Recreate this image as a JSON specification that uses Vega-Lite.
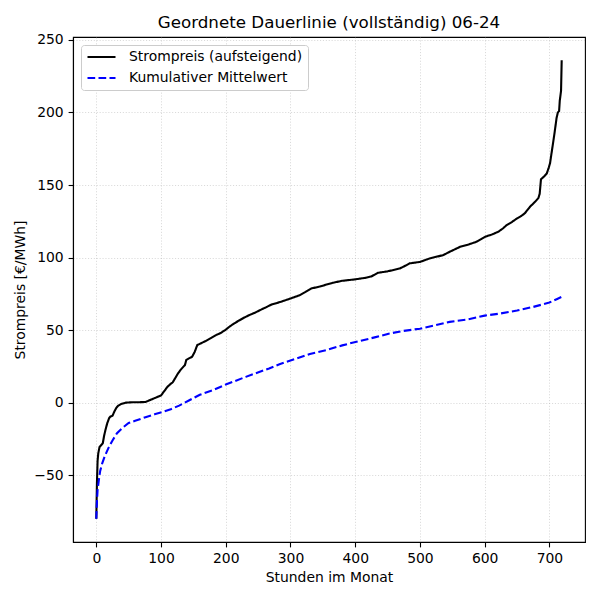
{
  "$schema": "https://vega.github.io/schema/vega-lite/v6.json",
  "width": 512,
  "height": 505,
  "autosize": {"type": "none"},
  "padding": {"left": 73, "top": 37, "right": 15, "bottom": 58},
  "title": {
    "text": "Geordnete Dauerlinie (vollständig) 06-24",
    "font": "DejaVu Sans",
    "fontSize": 16.7,
    "fontWeight": "normal",
    "color": "black",
    "anchor": "middle",
    "offset": 1
  },
  "datasets": {
    "price": [
      {"h": 0, "v": -80}, {"h": 1, "v": -55}, {"h": 2, "v": -40}, {"h": 3, "v": -35},
      {"h": 5, "v": -30.5}, {"h": 8, "v": -29}, {"h": 10, "v": -28}, {"h": 12, "v": -23},
      {"h": 14, "v": -19}, {"h": 17, "v": -14}, {"h": 20, "v": -10.5}, {"h": 22, "v": -9.5},
      {"h": 25, "v": -9}, {"h": 28, "v": -6}, {"h": 31, "v": -3.5}, {"h": 34, "v": -2},
      {"h": 38, "v": -1}, {"h": 45, "v": 0}, {"h": 55, "v": 0.3}, {"h": 65, "v": 0.3},
      {"h": 76, "v": 0.5}, {"h": 84, "v": 2}, {"h": 92, "v": 3.5}, {"h": 100, "v": 5},
      {"h": 105, "v": 8}, {"h": 110, "v": 11}, {"h": 115, "v": 13}, {"h": 118, "v": 14},
      {"h": 122, "v": 17}, {"h": 126, "v": 20}, {"h": 130, "v": 22.5}, {"h": 135, "v": 25},
      {"h": 137, "v": 26}, {"h": 139, "v": 29.5}, {"h": 143, "v": 30.5}, {"h": 148, "v": 31.6},
      {"h": 152, "v": 35}, {"h": 156, "v": 39.7}, {"h": 162, "v": 41}, {"h": 169, "v": 42.5},
      {"h": 177, "v": 44.5}, {"h": 185, "v": 46.6}, {"h": 192, "v": 48}, {"h": 199, "v": 50},
      {"h": 206, "v": 52.5}, {"h": 213, "v": 54.6}, {"h": 220, "v": 56.5}, {"h": 228, "v": 58.5},
      {"h": 236, "v": 60.3}, {"h": 245, "v": 62}, {"h": 254, "v": 64}, {"h": 262, "v": 65.7},
      {"h": 270, "v": 67.5}, {"h": 285, "v": 69.5}, {"h": 300, "v": 71.8}, {"h": 314, "v": 74},
      {"h": 322, "v": 76}, {"h": 332, "v": 78.7}, {"h": 345, "v": 80}, {"h": 365, "v": 82.6},
      {"h": 380, "v": 84}, {"h": 400, "v": 85}, {"h": 415, "v": 86}, {"h": 425, "v": 87},
      {"h": 435, "v": 89.5}, {"h": 450, "v": 90.5}, {"h": 469, "v": 92.5}, {"h": 478, "v": 94.5},
      {"h": 484, "v": 96}, {"h": 500, "v": 97}, {"h": 515, "v": 99.4}, {"h": 536, "v": 101.7},
      {"h": 546, "v": 104}, {"h": 562, "v": 107.4}, {"h": 575, "v": 109}, {"h": 588, "v": 111},
      {"h": 601, "v": 114.4}, {"h": 612, "v": 116}, {"h": 621, "v": 117.8}, {"h": 628, "v": 120},
      {"h": 634, "v": 122.4}, {"h": 642, "v": 124.5}, {"h": 650, "v": 127}, {"h": 656, "v": 128.5},
      {"h": 662, "v": 130.5}, {"h": 670, "v": 135}, {"h": 678, "v": 138.5}, {"h": 683, "v": 141},
      {"h": 685, "v": 144}, {"h": 687, "v": 154}, {"h": 692, "v": 156}, {"h": 696, "v": 158},
      {"h": 699, "v": 162}, {"h": 701, "v": 165}, {"h": 704, "v": 174}, {"h": 708, "v": 186},
      {"h": 711, "v": 196}, {"h": 713, "v": 200}, {"h": 715, "v": 201}, {"h": 716, "v": 208},
      {"h": 718, "v": 215}, {"h": 719, "v": 236}
    ],
    "mean": [
      {"h": 0, "v": -80}, {"h": 1, "v": -68}, {"h": 2, "v": -60}, {"h": 4, "v": -53},
      {"h": 6, "v": -47}, {"h": 9, "v": -42}, {"h": 13, "v": -37}, {"h": 19, "v": -31},
      {"h": 25, "v": -26}, {"h": 32, "v": -21}, {"h": 40, "v": -17.5}, {"h": 50, "v": -14},
      {"h": 60, "v": -12.5}, {"h": 76, "v": -10}, {"h": 90, "v": -8}, {"h": 102, "v": -6.5},
      {"h": 115, "v": -4.5}, {"h": 128, "v": -2}, {"h": 143, "v": 1.5}, {"h": 160, "v": 5.5},
      {"h": 180, "v": 8.6}, {"h": 200, "v": 12.5}, {"h": 231, "v": 17.8}, {"h": 267, "v": 23.6},
      {"h": 283, "v": 26.5}, {"h": 300, "v": 29}, {"h": 330, "v": 33.5}, {"h": 355, "v": 36.2},
      {"h": 380, "v": 39.5}, {"h": 402, "v": 42}, {"h": 430, "v": 45}, {"h": 453, "v": 47.7},
      {"h": 475, "v": 49.5}, {"h": 500, "v": 51}, {"h": 525, "v": 53.5}, {"h": 546, "v": 55.7},
      {"h": 575, "v": 57.5}, {"h": 600, "v": 60}, {"h": 625, "v": 61.5}, {"h": 650, "v": 63.5},
      {"h": 675, "v": 66}, {"h": 700, "v": 69}, {"h": 712, "v": 71.5}, {"h": 719, "v": 73}
    ]
  },
  "encoding": {
    "x": {
      "field": "h",
      "type": "quantitative",
      "title": "Stunden im Monat",
      "scale": {"domain": [-36, 755], "nice": false, "zero": false},
      "axis": {"values": [0, 100, 200, 300, 400, 500, 600, 700], "titlePadding": 5}
    },
    "y": {
      "field": "v",
      "type": "quantitative",
      "title": "Strompreis [€/MWh]",
      "scale": {"domain": [-96, 252], "nice": false, "zero": false},
      "axis": {
        "values": [-50, 0, 50, 100, 150, 200, 250],
        "labelExpr": "replace(datum.label, '-', '−')",
        "titlePadding": 6
      }
    }
  },
  "layer": [
    {
      "data": {"name": "price"},
      "mark": {"type": "line", "strokeWidth": 2.1, "interpolate": "linear"},
      "encoding": {
        "color": {
          "datum": "Strompreis (aufsteigend)",
          "scale": {"domain": ["Strompreis (aufsteigend)", "Kumulativer Mittelwert"], "range": ["black", "blue"]},
          "legend": {"title": null}
        },
        "strokeDash": {
          "datum": "Strompreis (aufsteigend)",
          "scale": {"domain": ["Strompreis (aufsteigend)", "Kumulativer Mittelwert"], "range": [[1, 0], [7.7, 3.3]]},
          "legend": {"title": null}
        }
      }
    },
    {
      "data": {"name": "mean"},
      "mark": {"type": "line", "strokeWidth": 2.1, "interpolate": "linear"},
      "encoding": {
        "color": {"datum": "Kumulativer Mittelwert"},
        "strokeDash": {"datum": "Kumulativer Mittelwert"}
      }
    },
    {
      "data": {"values": [{}]},
      "mark": {"type": "rule", "color": "red", "strokeWidth": 2.1, "strokeDash": [2.1, 3.4]},
      "encoding": {"y": {"datum": 0, "type": "quantitative"}}
    }
  ],
  "config": {
    "font": "DejaVu Sans",
    "view": {"stroke": "black", "strokeWidth": 1.1},
    "axis": {
      "labelFont": "DejaVu Sans",
      "labelFontSize": 13.9,
      "labelColor": "black",
      "labelPadding": 4.9,
      "labelFlush": false,
      "labelOverlap": false,
      "titleFont": "DejaVu Sans",
      "titleFontSize": 13.9,
      "titleFontWeight": "normal",
      "titleColor": "black",
      "domainColor": "black",
      "domainWidth": 1.1,
      "tickColor": "black",
      "tickWidth": 1.1,
      "tickSize": 4.9,
      "grid": true,
      "gridColor": "#b0b0b0",
      "gridWidth": 0.8,
      "gridDash": [1.1, 1.8],
      "gridOpacity": 0.6
    },
    "legend": {
      "orient": "top-left",
      "offset": 7.5,
      "padding": 5,
      "fillColor": "white",
      "strokeColor": "#cccccc",
      "cornerRadius": 3,
      "labelFont": "DejaVu Sans",
      "labelFontSize": 13.9,
      "labelColor": "black",
      "labelLimit": 0,
      "labelOffset": 12,
      "symbolType": "stroke",
      "symbolSize": 784,
      "symbolStrokeWidth": 2.1,
      "clipHeight": 14,
      "rowPadding": 7
    }
  }
}
